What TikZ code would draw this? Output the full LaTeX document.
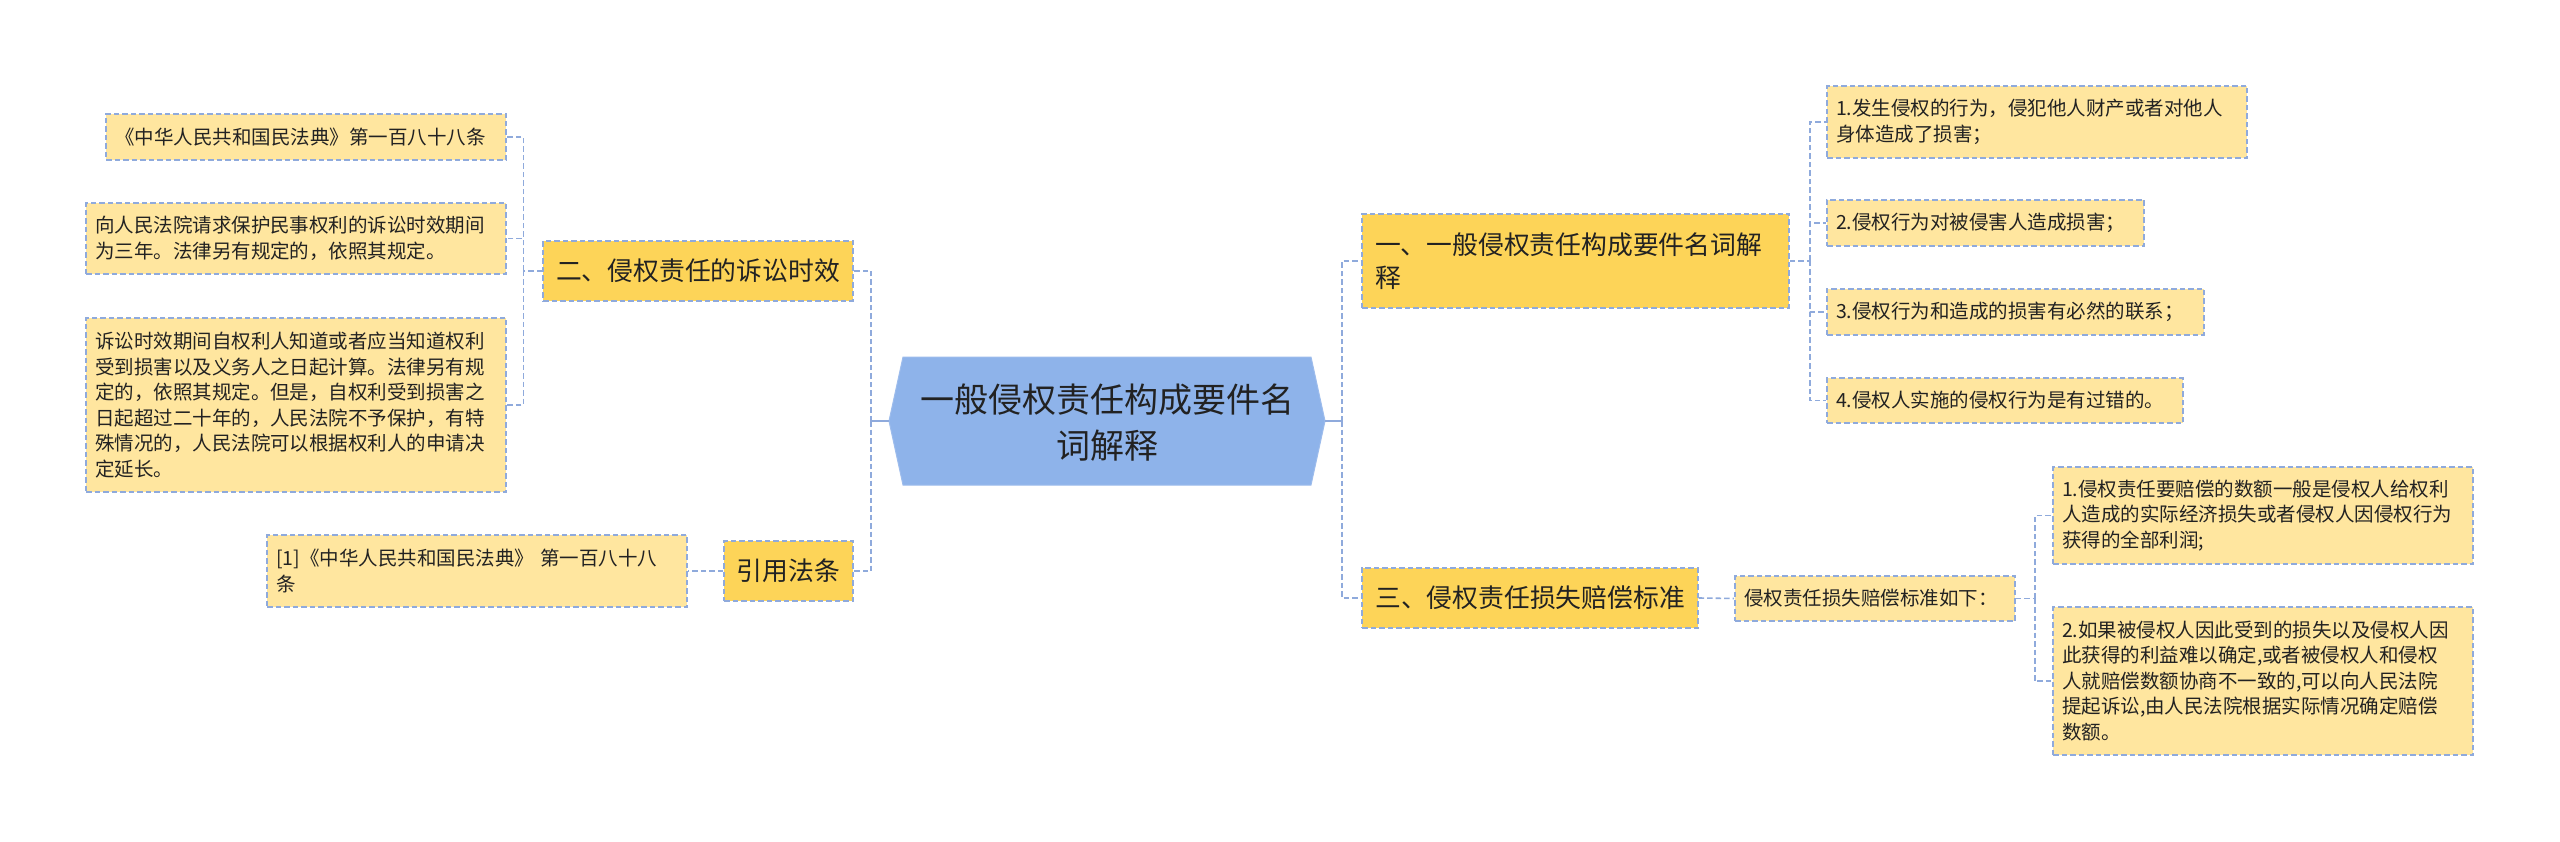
\documentclass[tikz,border=0pt]{standalone}
\usepackage{fontspec}
\setmainfont{Noto Sans CJK SC}
\definecolor{lineblue}{HTML}{8FAADC}
\definecolor{hexfill}{HTML}{8EB3EA}
\definecolor{hexdraw}{HTML}{9DBCEC}
\definecolor{lvfill}{HTML}{FDD458}
\definecolor{leaffill}{HTML}{FFE69F}
\definecolor{txt}{HTML}{222222}
\begin{document}
\begin{tikzpicture}[x=1pt,y=-1pt,
  box/.style={draw=lineblue, line width=1.6pt, dash pattern=on 5.5pt off 3pt, text=txt, inner ysep=0pt, anchor=center},
  leaf/.style={box, fill=leaffill, font=\fontsize{19.5}{25.5}\selectfont, align=left, inner xsep=9pt},
  lvone/.style={box, fill=lvfill, font=\fontsize{25.8}{33}\selectfont, inner xsep=13pt, align=center},
  conn/.style={draw=lineblue, line width=1.6pt, dash pattern=on 5.5pt off 3pt},
  stub/.style={draw=lineblue, line width=1.8pt}]
\useasboundingbox (0,0) rectangle (2560,842);
\fill[white] (0,0) rectangle (2560,842);

% central topic
\coordinate (cl) at (889,421);
\coordinate (cr) at (1325,421);
\filldraw[fill=hexfill, draw=hexdraw, line width=1pt] (cl) -- (903,357) -- (1311,357) -- (cr) -- (1311,485) -- (903,485) -- cycle;
\node[text=txt, font=\fontsize{34}{46}\selectfont, align=center] (c) at (1107,423) {一般侵权责任构成要件名\\词解释};

% level one
\node[lvone, minimum width=308pt, minimum height=60pt] (L2) at (698,271) {二、侵权责任的诉讼时效};
\node[lvone, minimum width=129pt, minimum height=60pt, inner xsep=6pt] (L4) at (788.5,571) {引用法条};
\node[lvone, text width=401pt, minimum height=94pt, align=left] (R1) at (1575.5,261) {一、一般侵权责任构成要件名词解\\释};
\node[lvone, minimum width=334pt, minimum height=60pt] (R3) at (1530,598) {三、侵权责任损失赔偿标准};

% leaves, left
\node[leaf, text width=382pt, minimum height=46pt] (A) at (306,137) {《中华人民共和国民法典》第一百八十八条};
\node[leaf, text width=402pt, minimum height=71pt] (B) at (296,238.5) {向人民法院请求保护民事权利的诉讼时效期间\\为三年。法律另有规定的，依照其规定。};
\node[leaf, text width=402pt, minimum height=174pt] (C) at (296,405) {诉讼时效期间自权利人知道或者应当知道权利\\受到损害以及义务人之日起计算。法律另有规\\定的，依照其规定。但是，自权利受到损害之\\日起超过二十年的，人民法院不予保护，有特\\殊情况的，人民法院可以根据权利人的申请决\\定延长。};
\node[leaf, text width=402pt, minimum height=72pt] (D) at (477,571) {[1]《中华人民共和国民法典》 第一百八十八\\条};

% leaves, right
\node[leaf, text width=402pt, minimum height=72pt] (Ra) at (2037,122) {1.发生侵权的行为，侵犯他人财产或者对他人\\身体造成了损害；};
\node[leaf, text width=299pt, minimum height=46pt] (Rb) at (1985.5,223) {2.侵权行为对被侵害人造成损害；};
\node[leaf, text width=359pt, minimum height=46pt] (Rc) at (2015.5,312) {3.侵权行为和造成的损害有必然的联系；};
\node[leaf, text width=338pt, minimum height=45pt] (Rd) at (2005,400.5) {4.侵权人实施的侵权行为是有过错的。};
\node[leaf, text width=262pt, minimum height=45pt] (S) at (1875,598.5) {侵权责任损失赔偿标准如下：};
\node[leaf, text width=402pt, minimum height=97pt] (Sa) at (2263,515.5) {1.侵权责任要赔偿的数额一般是侵权人给权利\\人造成的实际经济损失或者侵权人因侵权行为\\获得的全部利润;};
\node[leaf, text width=402pt, minimum height=148pt] (Sb) at (2263,681) {2.如果被侵权人因此受到的损失以及侵权人因\\此获得的利益难以确定,或者被侵权人和侵权\\人就赔偿数额协商不一致的,可以向人民法院\\提起诉讼,由人民法院根据实际情况确定赔偿\\数额。};

% connectors
\draw[stub] (cl) -- ++(-18,0) coordinate (cll);
\draw[conn] (cll) |- (L2.east);
\draw[conn] (cll) |- (L4.east);
\draw[stub] (cr) -- ++(17,0) coordinate (crr);
\draw[conn] (crr) |- (R1.west);
\draw[conn] (crr) |- (R3.west);

\draw[conn] (L2.west) -- ++(-19,0) coordinate (l2j);
\draw[conn] (l2j) |- (A.east);
\draw[conn] (l2j) |- (B.east);
\draw[conn] (l2j) |- (C.east);
\draw[conn] (L4.west) -- (D.east);

\draw[conn] (R1.east) -- ++(20,0) coordinate (r1j);
\draw[conn] (r1j) |- (Ra.west);
\draw[conn] (r1j) |- (Rb.west);
\draw[conn] (r1j) |- (Rc.west);
\draw[conn] (r1j) |- (Rd.west);
\draw[conn] (R3.east) -- (S.west);
\draw[conn] (S.east) -- ++(19,0) coordinate (sj);
\draw[conn] (sj) |- (Sa.west);
\draw[conn] (sj) |- (Sb.west);
\end{tikzpicture}
\end{document}
